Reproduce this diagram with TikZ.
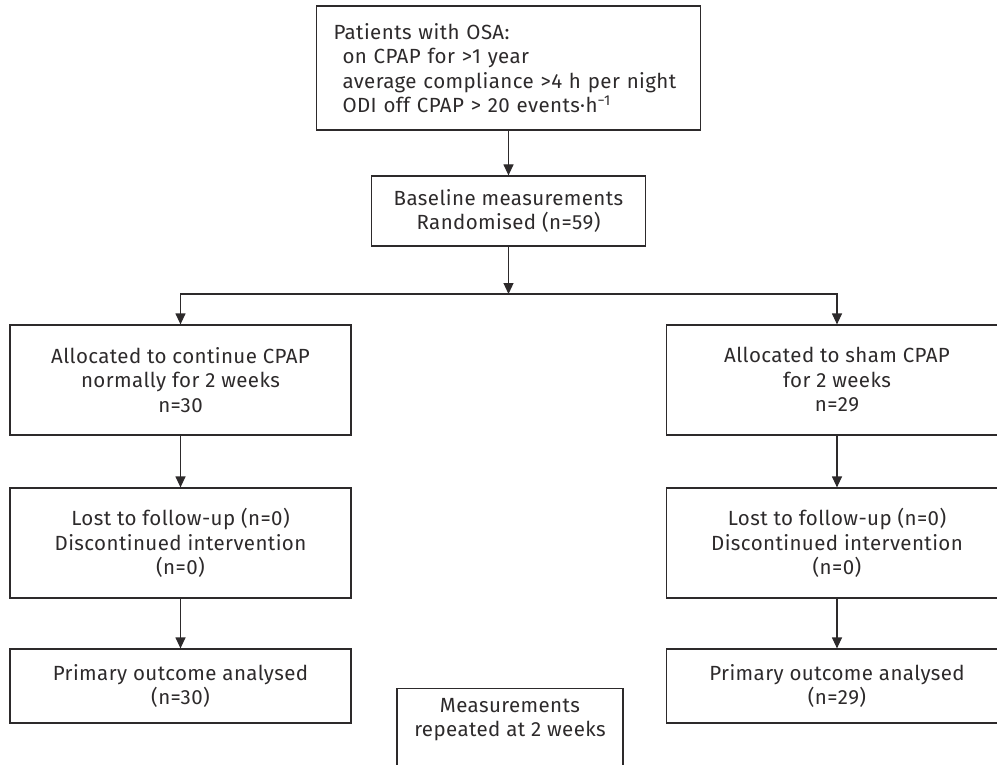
\documentclass[tikz,border=0pt]{standalone}
\usepackage{fontspec}
\setmainfont{Fira Sans}[LetterSpace=2]
\usetikzlibrary{arrows.meta}
\definecolor{ink}{RGB}{45,42,43}

\begin{document}
\begin{tikzpicture}[
    x=1pt, y=1pt,
    font=\fontsize{20.5}{24.5}\selectfont,
    box/.style={rectangle, draw=ink, line width=1.2pt, text=ink, align=center, inner sep=0pt},
    colbox/.style={box, minimum width=341pt},
    arr/.style={draw=ink, line width=1.2pt, arrows={-Triangle[width=10pt, length=11pt]}},
    every edge/.style={arr}
]
\useasboundingbox (0,-765) rectangle (997,0);
\clip (0,-765) rectangle (997,0);

\node[box, minimum width=384pt, minimum height=124pt, text width=350pt, align=left] (P) at (508.5,-68) {Patients with OSA:\\
    \hspace*{9pt}on CPAP for >1 year\\
    \hspace*{9pt}average compliance >4 h per night\\
    \hspace*{9pt}ODI off CPAP > 20 events·h\textsuperscript{−1}};

\node[box, minimum width=274pt, minimum height=70pt] (B) at (508.5,-211) {Baseline measurements\\Randomised (n=59)};

\coordinate (split) at (508.5,-294);

\node[colbox, minimum height=110pt] (AL) at (180.5,-380) {Allocated to continue CPAP\\normally for 2 weeks\\n=30};
\node[colbox, minimum height=110pt] (AR) at (837,-380) {Allocated to sham CPAP\\for 2 weeks\\n=29};

\node[colbox, minimum height=110pt] (LL) at (180.5,-543) {Lost to follow-up (n=0)\\Discontinued intervention\\(n=0)};
\node[colbox, minimum height=110pt] (LR) at (837,-543) {Lost to follow-up (n=0)\\Discontinued intervention\\(n=0)};

\node[colbox, minimum height=74pt] (PL) at (180.5,-686) {Primary outcome analysed\\(n=30)};
\node[colbox, minimum height=74pt] (PR) at (837,-686) {Primary outcome analysed\\(n=29)};

\node[box, anchor=north, minimum width=226pt, minimum height=90pt,
    label={[text=ink, align=center, anchor=north, inner sep=0pt, yshift=-10pt]north:Measurements\\repeated at 2 weeks}] (M) at (510,-688) {};

% Connections

\path (P) edge (B);
\path (B) edge (split);
\draw[arr] (split) -| (AL.north);
\draw[arr] (split) -| (AR.north);

\foreach \s in {L,R} {
    \path (A\s) edge (L\s);
    \path (L\s) edge (P\s);
}

\end{tikzpicture}
\end{document}
